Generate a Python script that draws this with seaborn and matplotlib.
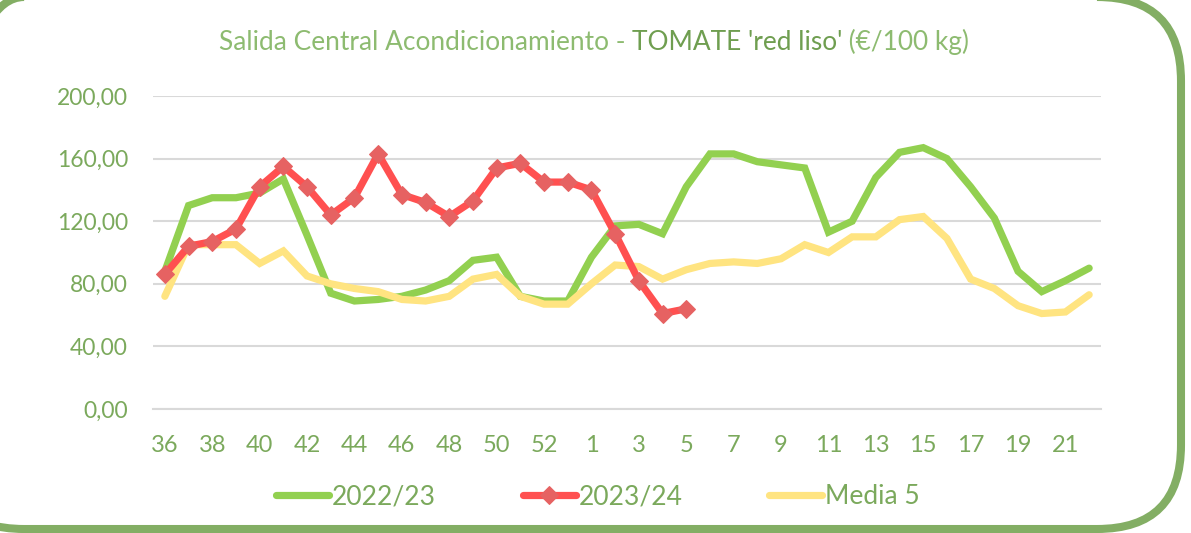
import numpy as np
import pandas as pd
import matplotlib
matplotlib.use("Agg")
import matplotlib.pyplot as plt
import seaborn as sns
from matplotlib.patches import FancyBboxPatch
from matplotlib.ticker import FuncFormatter

# ---------------- data ----------------
weeks = [36, 37, 38, 39, 40, 41, 42, 43, 44, 45, 46, 47, 48, 49, 50, 51, 52, 53,
         1, 2, 3, 4, 5, 6, 7, 8, 9, 10, 11, 12, 13, 14, 15, 16, 17, 18, 19, 20, 21, 22]
s2022_23 = [88, 130, 135, 135, 138, 147, 111, 74, 69, 70, 72, 76, 82, 95, 97, 72, 69, 69,
            97, 117, 118, 112, 142, 163, 163, 158, 156, 154, 113, 120, 148, 164, 167, 160,
            142, 122, 88, 75, 82, 90]
s2023_24 = [86, 104, 107, 115, 142, 155, 142, 124, 135, 163, 137, 132, 123, 133, 154,
            157, 145, 145, 140, 112, 82, 61, 64]
media5 = [72, 105, 105, 105, 93, 101, 85, 80, 77, 75, 70, 69, 72, 83, 86, 72, 67, 67,
          80, 92, 91, 83, 89, 93, 94, 93, 96, 105, 100, 110, 110, 121, 123, 109, 83, 77,
          66, 61, 62, 73]
series_names = ["2022/23", "2023/24", "Media 5"]
yticks = [0, 40, 80, 120, 160, 200]

# ---------------- style ----------------
sns.set_style("white")
plt.rcParams["font.family"] = ["Lato", "DejaVu Sans"]

W, H = 1191, 533
fig = plt.figure(figsize=(W / 100, H / 100), dpi=100)

TXT = "#7BA95C"
TXT_LIGHT = "#8DBB70"
TXT_DARK = "#6F9E50"
GRID = "#D9D9D9"
C_GREEN = "#92D050"
C_RED = "#FF5050"
C_RED_M = "#E66262"
C_YEL = "#FFE481"
FRAME = "#83AE64"

# background frame axis
bg = fig.add_axes([0, 0, 1, 1], zorder=0)
bg.set_xlim(0, W)
bg.set_ylim(H, 0)
bg.axis("off")
bg.add_patch(FancyBboxPatch((-60, -3), 1181 + 60, 532, boxstyle="round,pad=0,rounding_size=84",
                            fill=False, ec=FRAME, lw=5.8))

left, right, top, bottom = 153, 1101, 96, 409
ax = fig.add_axes([left / W, 1 - bottom / H, (right - left) / W, (bottom - top) / H], zorder=2)
ax.patch.set_alpha(0)

pos = np.arange(len(weeks))
df1 = pd.DataFrame({"pos": pos, "val": s2022_23})
df2 = pd.DataFrame({"pos": pos[:len(s2023_24)], "val": s2023_24})
df3 = pd.DataFrame({"pos": pos, "val": media5})

lw = 4.2
sns.lineplot(data=df1, x="pos", y="val", ax=ax, color=C_GREEN, lw=lw, label=series_names[0],
             solid_capstyle="round", solid_joinstyle="miter", zorder=3)
sns.lineplot(data=df2, x="pos", y="val", ax=ax, color=C_RED, lw=lw, label=series_names[1],
             marker="D", markersize=9.5, markerfacecolor=C_RED_M, markeredgecolor=C_RED_M,
             solid_capstyle="round", solid_joinstyle="miter", zorder=5)
sns.lineplot(data=df3, x="pos", y="val", ax=ax, color=C_YEL, lw=lw, label=series_names[2],
             solid_capstyle="round", solid_joinstyle="miter", zorder=4)

ax.set_xlim(-0.5, len(weeks) - 0.5)
ax.set_ylim(0, 200)
ax.set_xlabel("")
ax.set_ylabel("")

# y axis
ax.set_yticks(yticks)
ax.yaxis.set_major_formatter(FuncFormatter(lambda v, p: f"{v:.2f}".replace(".", ",")))
ax.grid(axis="y", color=GRID, lw=1.5, zorder=1)
ax.set_axisbelow(True)
ax.tick_params(axis="y", length=0, pad=18, labelsize=16.5, labelcolor=TXT)

# x axis
lab_pos = pos[::2]
ax.set_xticks(lab_pos)
ax.set_xticklabels([str(weeks[i]) for i in lab_pos])
ax.set_xticks(np.arange(len(weeks) + 1) - 0.5, minor=True)
ax.tick_params(axis="x", which="major", length=0, pad=19, labelsize=17, labelcolor=TXT)
ax.tick_params(axis="x", which="minor", length=6, width=1.5, color=GRID, direction="out")
for s in ["top", "right", "left"]:
    ax.spines[s].set_visible(False)
ax.spines["bottom"].set_color(GRID)
ax.spines["bottom"].set_linewidth(1.5)

# legend
handles, labels = ax.get_legend_handles_labels()
ax.get_legend().remove()
for h in handles:
    h.set_linewidth(5.2)
handles[1].set_markersize(9.5)
leg = fig.legend(handles, labels, loc="center", bbox_to_anchor=(598 / W, 1 - 497 / H), ncol=3,
                 frameon=False, fontsize=19, handlelength=2.0, handletextpad=0.1,
                 columnspacing=3.3, labelcolor=TXT)

# title in three colored pieces
parts = [("Salida Central Acondicionamiento - ", TXT_LIGHT),
         ("TOMATE 'red liso'", TXT_DARK),
         (" (€/100 kg)", TXT_LIGHT)]
fig.canvas.draw()
r = fig.canvas.get_renderer()
texts = []
widths = []
for s, c in parts:
    t = bg.text(0, 42, s, color=c, fontsize=18.9, va="center", ha="left")
    widths.append(t.get_window_extent(r).width)
    texts.append(t)
x0 = 594 - sum(widths) / 2
for t, wdt in zip(texts, widths):
    t.set_x(x0)
    x0 += wdt

fig.savefig("out.png", dpi=100)
